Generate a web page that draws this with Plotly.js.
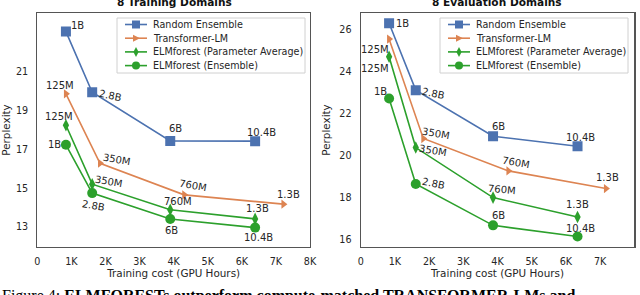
<!DOCTYPE html>
<html>
<head>
<meta charset="utf-8">
<script src="https://cdn.plot.ly/plotly-3.0.1.min.js"></script>
<style>html,body{margin:0;padding:0;background:#fff;}#chart{width:640px;height:295px;}</style>
</head>
<body>
<div id="chart"></div>
<script>
// ---- data ----
const seriesNames = ["Random Ensemble", "Transformer-LM", "ELMforest (Parameter Average)", "ELMforest (Ensemble)"];
const panelTitles = ["8 Training Domains", "8 Evaluation Domains"];
const xTickVals = [0, 1000, 2000, 3000, 4000, 5000, 6000, 7000, 8000];
const xTickText = ["0", "1K", "2K", "3K", "4K", "5K", "6K", "7K", "8K"];
const yTickValsTrain = [13, 15, 17, 19, 21];
const yTickValsEval = [16, 18, 20, 22, 24, 26];

// Training domains
const trainRandomX = [840, 1610, 3900, 6390];
const trainRandomY = [23.08, 19.95, 17.44, 17.43];
const trainRandomLabels = ["1B", "2.8B", "6B", "10.4B"];
const trainTLMX = [840, 1840, 4310, 7220];
const trainTLMY = [19.87, 16.29, 14.66, 14.18];
const trainTLMLabels = ["125M", "350M", "760M", "1.3B"];
const trainAvgX = [840, 1610, 3900, 6390];
const trainAvgY = [18.25, 15.21, 13.89, 13.42];
const trainAvgLabels = ["125M", "350M", "760M", "1.3B"];
const trainEnsX = [840, 1610, 3900, 6390];
const trainEnsY = [17.24, 14.75, 13.41, 12.97];
const trainEnsLabels = ["1B", "2.8B", "6B", "10.4B"];

// Evaluation domains
const evalRandomX = [830, 1610, 3870, 6340];
const evalRandomY = [26.29, 23.11, 20.92, 20.44];
const evalRandomLabels = ["1B", "2.8B", "6B", "10.4B"];
const evalTLMX = [830, 1830, 4320, 7170];
const evalTLMY = [25.54, 20.81, 19.27, 18.43];
const evalTLMLabels = ["125M", "350M", "760M", "1.3B"];
const evalAvgX = [830, 1610, 3870, 6340];
const evalAvgY = [24.70, 20.38, 18.00, 17.08];
const evalAvgLabels = ["125M", "350M", "760M", "1.3B"];
const evalEnsX = [830, 1610, 3870, 6340];
const evalEnsY = [22.71, 18.65, 16.68, 16.15];
const evalEnsLabels = ["1B", "2.8B", "6B", "10.4B"];

const captionText = "Figure 4: <b>ELMFORESTs outperform compute-matched TRANSFORMER-LMs and</b>";

// ---- styles ----
const colors = ["#4c72b0", "#dd8452", "#2ca02c", "#2ca02c"];
const markers = [
  {symbol: "square", size: 10},
  {symbol: "triangle-right", size: 8},
  {symbol: "diamond-tall", size: 9},
  {symbol: "circle", size: 10}
];
// label offsets [xshift, yshift(px, up positive), angle]
const offsTrain = [
  [[12, 6, 0], [18, -3, 12], [5, 12, 0], [6, 9, 0]],
  [[-6, 8, 0], [17, 4, 10], [9, 9, 10], [5, 10, 0]],
  [[-7, 9, 0], [17, 3, 10], [8, 8, 0], [2, 10, 0]],
  [[-11, 0, 0], [1, -12, 10], [1, -11, 0], [3, -10, 0]]
];
const offsEval = [
  [[13, 0, 0], [18, -3, 12], [5, 10, 0], [3, 9, 0]],
  [[-14, -10, 0], [13, 5, 10], [8, 8, 10], [2, 11, 0]],
  [[-14, -12, 0], [17, -3, 10], [9, 8, 5], [0, 12, 0]],
  [[-9, 7, 0], [18, 0, 12], [5, 10, 0], [3, 8, 0]]
];

const trainSets = [
  [trainRandomX, trainRandomY, trainRandomLabels],
  [trainTLMX, trainTLMY, trainTLMLabels],
  [trainAvgX, trainAvgY, trainAvgLabels],
  [trainEnsX, trainEnsY, trainEnsLabels]
];
const evalSets = [
  [evalRandomX, evalRandomY, evalRandomLabels],
  [evalTLMX, evalTLMY, evalTLMLabels],
  [evalAvgX, evalAvgY, evalAvgLabels],
  [evalEnsX, evalEnsY, evalEnsLabels]
];

const W = 640, H = 295;
const px = v => v / W;
const py = v => 1 - v / H;

const traces = [];
const annotations = [];
const shapes = [];
const txtColor = "#262626";

function addPanel(sets, offs, xa, ya) {
  sets.forEach((s, i) => {
    traces.push({
      x: s[0], y: s[1], type: "scatter", mode: "lines+markers",
      name: seriesNames[i], xaxis: xa, yaxis: ya, showlegend: false,
      line: {color: colors[i], width: 1.6},
      marker: {color: colors[i], symbol: markers[i].symbol, size: markers[i].size, line: {width: 0}},
      hoverinfo: "skip"
    });
    s[2].forEach((lab, j) => {
      const o = offs[i][j];
      annotations.push({
        x: s[0][j], y: s[1][j], xref: xa, yref: ya, text: lab, showarrow: false,
        xshift: o[0], yshift: o[1], textangle: o[2],
        font: {family: "DejaVu Sans", size: 10, color: txtColor}
      });
    });
  });
}
addPanel(trainSets, offsTrain, "x", "y");
addPanel(evalSets, offsEval, "x2", "y2");

// custom legend (box, line sample, marker, label) for each panel
function addLegend(boxL, boxR, boxT, boxB, lineL, lineR, textL) {
  shapes.push({type: "rect", xref: "paper", yref: "paper", x0: px(boxL), x1: px(boxR), y0: py(boxB), y1: py(boxT),
    line: {color: "#d0d0d0", width: 1}, fillcolor: "rgba(255,255,255,0.9)", layer: "above"});
  const rows = [24.5, 38.2, 51.9, 65.6];
  const mx = (lineL + lineR) / 2;
  seriesNames.forEach((nm, i) => {
    const yc = py(rows[i]);
    shapes.push({type: "line", xref: "paper", yref: "paper", x0: px(lineL), x1: px(lineR), y0: yc, y1: yc,
      line: {color: colors[i], width: 1.6}, layer: "above"});
    const base = {xref: "paper", yref: "paper", xsizemode: "pixel", ysizemode: "pixel", xanchor: px(mx), yanchor: yc,
      fillcolor: colors[i], line: {width: 0}, layer: "above"};
    if (i === 0) shapes.push(Object.assign({type: "rect", x0: -4, x1: 4, y0: -4, y1: 4}, base));
    if (i === 1) shapes.push(Object.assign({type: "path", path: "M -3,-3.5 L 4,0 L -3,3.5 Z"}, base));
    if (i === 2) shapes.push(Object.assign({type: "path", path: "M 0,-5 L 2.6,0 L 0,5 L -2.6,0 Z"}, base));
    if (i === 3) shapes.push(Object.assign({type: "circle", x0: -4, x1: 4, y0: -4, y1: 4}, base));
    annotations.push({text: nm, xref: "paper", yref: "paper", x: px(textL), y: yc, xanchor: "left", yanchor: "middle",
      showarrow: false, font: {family: "DejaVu Sans", size: 9.6, color: txtColor}});
  });
}
addLegend(117, 305, 18, 73, 125, 147, 151);
addLegend(440, 628, 18, 73, 448, 470, 474);

const titleFont = {family: "DejaVu Sans", size: 10.6, color: "#111"};
panelTitles.forEach((t, i) => {
  annotations.push({
    text: "<b>" + t + "</b>", xref: "paper", yref: "paper",
    x: i === 0 ? px(174) : px(497), y: py(2.5), xanchor: "center", yanchor: "middle",
    showarrow: false, font: titleFont
  });
});
annotations.push({
  text: captionText, xref: "paper", yref: "paper", x: 0, y: py(296), xanchor: "left", yanchor: "middle",
  showarrow: false, font: {family: "Liberation Serif", size: 16, color: "#000"}
});

const tickFont = {family: "DejaVu Sans", size: 9.6, color: txtColor};
const axTitleFont = {family: "DejaVu Sans", size: 10.4, color: txtColor};
function xAxis(dom, anchor) {
  return {
    domain: dom, anchor: anchor, range: [0, 8000], tickvals: xTickVals, ticktext: xTickText,
    showgrid: false, zeroline: false, showline: true, mirror: true, linecolor: "#555", linewidth: 1.2,
    ticks: "", tickfont: tickFont, ticklabelstandoff: 5,
    title: {text: "Training cost (GPU Hours)", font: axTitleFont, standoff: 3}
  };
}
function yAxis(range, tv, anchor) {
  return {
    domain: [py(247), py(13)], anchor: anchor, range: range, tickvals: tv,
    showgrid: false, zeroline: false, showline: true, mirror: true, linecolor: "#555", linewidth: 1.2,
    ticks: "", tickfont: tickFont, ticklabelstandoff: 6,
    title: {text: "Perplexity", font: axTitleFont, standoff: 6}
  };
}

const layout = {
  width: W, height: H, margin: {l: 0, r: 0, t: 0, b: 0},
  paper_bgcolor: "#fff", plot_bgcolor: "#fff", showlegend: false,
  xaxis: xAxis([px(37.3), px(310)], "y"),
  yaxis: yAxis([11.97, 24.04], yTickValsTrain, "x"),
  xaxis2: xAxis([px(360.7), px(634.3)], "y2"),
  yaxis2: yAxis([15.65, 26.78], yTickValsEval, "x2"),
  annotations: annotations,
  shapes: shapes
};
Plotly.newPlot("chart", traces, layout, {staticPlot: true, displayModeBar: false});
</script>
</body>
</html>
